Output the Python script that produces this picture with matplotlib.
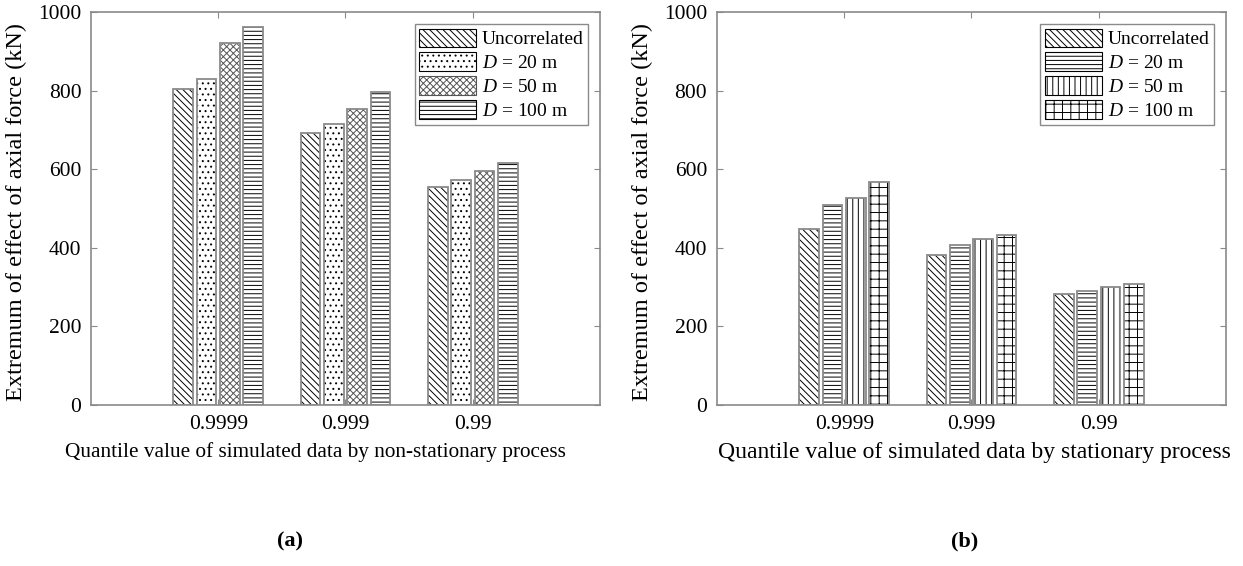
import matplotlib.pyplot as plt
import numpy as np

plt.rcParams['font.family'] = ['Liberation Serif', 'DejaVu Serif']
plt.rcParams['mathtext.fontset'] = 'custom'
plt.rcParams['mathtext.rm'] = 'Liberation Serif'
plt.rcParams['mathtext.it'] = 'Liberation Serif:italic'
plt.rcParams['hatch.linewidth'] = 0.7

quantiles = ['0.9999', '0.999', '0.99']
labels = ['Uncorrelated', '$D$ = 20 m', '$D$ = 50 m', '$D$ = 100 m']

# (a) non-stationary process
nonstat = {
    'Uncorrelated': [804, 691, 555],
    'D20': [829, 715, 573],
    'D50': [920, 753, 596],
    'D100': [963, 796, 615],
}
# (b) stationary process
stat = {
    'Uncorrelated': [447, 382, 282],
    'D20': [510, 408, 289],
    'D50': [527, 423, 299],
    'D100': [568, 433, 307],
}

hatches_a = ['\\\\\\\\\\', '...', 'xxxxx', '----']
hatches_b = ['\\\\\\\\\\', '----', '|||', '++']

fig = plt.figure(figsize=(12.43, 5.66), dpi=100)
ax1 = fig.add_axes([0.0732, 0.2845, 0.4095, 0.6943])
ax2 = fig.add_axes([0.5768, 0.2845, 0.4095, 0.6943])

x = np.arange(1, 4)
slot = 0.183
width = 0.155
gray = '#8a8a8a'


def draw(ax, data, hatches, xlabel, xfs, xlab_x, ylab_x):
    for i, key in enumerate(data):
        pos = x + (i - 1.5) * slot
        hc = '#555555' if hatches[i].startswith('x') else 'black'
        ax.bar(pos, data[key], width, color='white', edgecolor=hc,
               hatch=hatches[i], linewidth=0, label=labels[i])
        # gray outline on top
        ax.bar(pos, data[key], width, fill=False, edgecolor=gray, linewidth=1.3)
    ax.set_xlim(0, 4)
    ax.set_ylim(0, 1000)
    ax.set_xticks(x)
    ax.set_xticklabels(quantiles)
    ax.set_yticks(range(0, 1001, 200))
    ax.tick_params(direction='in', top=True, right=True, labelsize=15.5,
                   color=gray, length=4, pad=7)
    for s in ax.spines.values():
        s.set_color(gray)
        s.set_linewidth(1.2)
    ax.set_xlabel(xlabel, fontsize=xfs)
    ax.xaxis.set_label_coords(xlab_x, -0.095)
    ax.set_ylabel('Extremum of effect of axial force (kN)', fontsize=17.5)
    ax.yaxis.set_label_coords(ylab_x, 0.49)
    leg = ax.legend(loc='upper right', fontsize=14, fancybox=False,
                    edgecolor=gray, framealpha=1, handlelength=2.9,
                    handleheight=1.1, labelspacing=0.2, borderpad=0.25,
                    handletextpad=0.3, borderaxespad=0.6)
    leg.get_frame().set_linewidth(1.0)
    for h in leg.legend_handles:
        h.set_linewidth(0.8)


draw(ax1, nonstat, hatches_a,
     'Quantile value of simulated data by non-stationary process', 15.3, 0.44, -0.125)
draw(ax2, stat, hatches_b,
     'Quantile value of simulated data by stationary process', 17, 0.505, -0.125)

fig.text(0.2333, 0.035, '(a)', fontsize=16, fontweight='bold', ha='center')
fig.text(0.7764, 0.035, '(b)', fontsize=16, fontweight='bold', ha='center')

fig.savefig('out.png', dpi=100)
